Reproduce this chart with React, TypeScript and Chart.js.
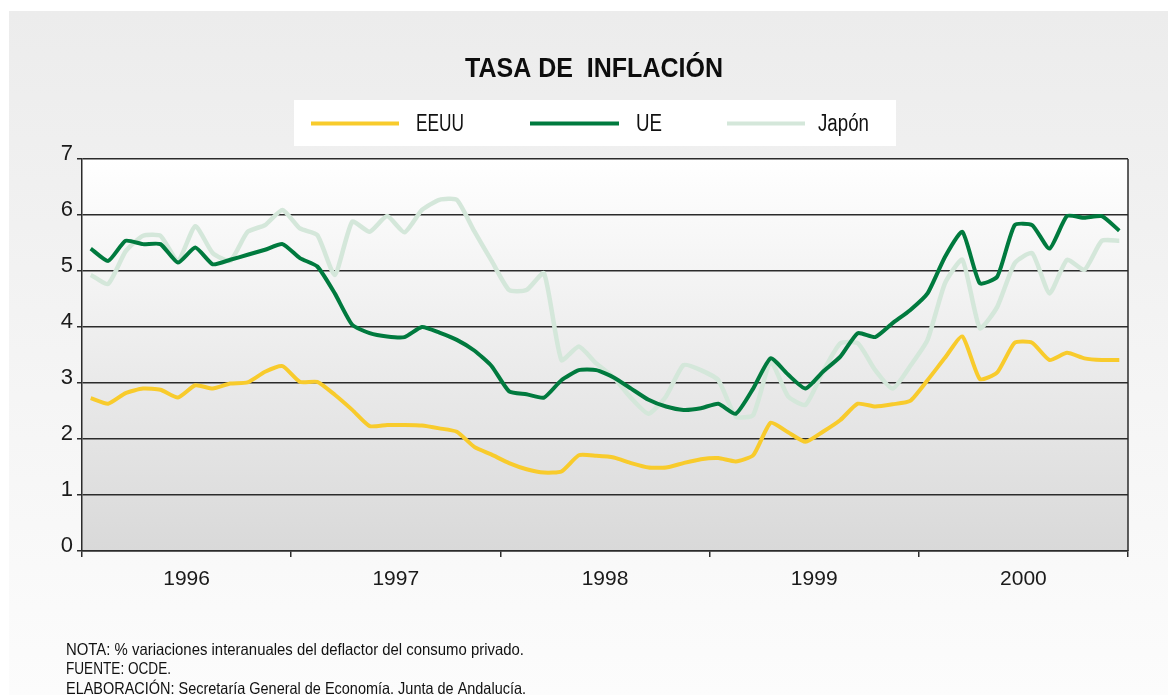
import React, { useEffect, useRef } from 'react';
import { Chart, registerables } from 'chart.js';

Chart.register(...registerables);

// ---- Data (monthly, Jan 1996 – Dec 2000) ----
const years = ['1996', '1997', '1998', '1999', '2000'];
const seriesNames = ['EEUU', 'UE', 'Japón'];
const seriesColors = ['#F8CB2C', '#007A3E', '#D4E7DA'];
const yTickValues = [0, 1, 2, 3, 4, 5, 6, 7];

const eeuu = [
  2.73, 2.63, 2.82, 2.90, 2.88, 2.74, 2.96, 2.90, 2.99, 3.01, 3.20, 3.30,
  3.02, 3.02, 2.79, 2.52, 2.23, 2.25, 2.25, 2.24, 2.19, 2.13, 1.86, 1.72,
  1.57, 1.46, 1.40, 1.42, 1.71, 1.70, 1.67, 1.57, 1.49, 1.49, 1.57, 1.64,
  1.66, 1.60, 1.71, 2.29, 2.12, 1.95, 2.13, 2.34, 2.63, 2.58, 2.62, 2.68,
  3.05, 3.45, 3.83, 3.07, 3.19, 3.72, 3.72, 3.41, 3.54, 3.44, 3.41, 3.41,
];

const ue = [
  5.40, 5.18, 5.54, 5.48, 5.48, 5.15, 5.42, 5.12, 5.20, 5.29, 5.38, 5.48,
  5.23, 5.08, 4.60, 4.04, 3.89, 3.83, 3.82, 4.00, 3.90, 3.77, 3.58, 3.30,
  2.85, 2.80, 2.74, 3.05, 3.23, 3.23, 3.10, 2.90, 2.70, 2.58, 2.52, 2.55,
  2.63, 2.45, 2.90, 3.44, 3.15, 2.90, 3.20, 3.47, 3.89, 3.82, 4.07, 4.30,
  4.60, 5.25, 5.70, 4.78, 4.90, 5.82, 5.82, 5.40, 5.98, 5.95, 5.98, 5.72,
];

const japon = [
  4.93, 4.77, 5.35, 5.63, 5.63, 5.18, 5.80, 5.32, 5.18, 5.70, 5.82, 6.09,
  5.76, 5.64, 4.93, 5.88, 5.70, 5.98, 5.69, 6.09, 6.27, 6.27, 5.71, 5.18,
  4.66, 4.66, 4.96, 3.41, 3.65, 3.35, 3.10, 2.73, 2.45, 2.76, 3.32, 3.23,
  3.05, 2.40, 2.43, 3.38, 2.76, 2.61, 3.20, 3.71, 3.71, 3.23, 2.90, 3.30,
  3.77, 4.78, 5.20, 3.98, 4.36, 5.14, 5.32, 4.60, 5.20, 5.02, 5.54, 5.54,
];

const titleText = 'TASA DE  INFLACIÓN';
const footerLines = [
  'NOTA: % variaciones interanuales del deflactor del consumo privado.',
  'FUENTE: OCDE.',
  'ELABORACIÓN: Secretaría General de Economía. Junta de Andalucía.',
];

const FONT = '"Liberation Sans", Arial, sans-serif';

function toPoints(values: number[]) {
  return values.map((v, i) => ({ x: i + 0.5, y: v }));
}

function fitText(ctx: CanvasRenderingContext2D, text: string, x: number, y: number, w: number) {
  const m = ctx.measureText(text).width;
  const s = w / m;
  ctx.save();
  ctx.translate(x, y);
  ctx.scale(s, 1);
  ctx.fillText(text, 0, 0);
  ctx.restore();
}

const decorPlugin = {
  id: 'decor',
  beforeDraw(chart: any) {
    const { ctx, chartArea: ca, width, height } = chart;
    ctx.save();
    ctx.fillStyle = '#ffffff';
    ctx.fillRect(0, 0, width, height);
    const g = ctx.createLinearGradient(0, 11, 0, height);
    g.addColorStop(0, '#ececec');
    g.addColorStop(1, '#fcfcfc');
    ctx.fillStyle = g;
    ctx.fillRect(9, 11, width - 9, height - 11);

    const pg = ctx.createLinearGradient(0, ca.top, 0, ca.bottom);
    pg.addColorStop(0, '#ffffff');
    pg.addColorStop(1, '#d9d9d9');
    ctx.fillStyle = pg;
    ctx.fillRect(ca.left, ca.top, ca.right - ca.left, ca.bottom - ca.top);

    // Title
    ctx.fillStyle = '#0d0d0d';
    ctx.textBaseline = 'alphabetic';
    ctx.textAlign = 'left';
    ctx.font = `bold 27px ${FONT}`;
    fitText(ctx, titleText, 465, 76.5, 258);

    // Legend box
    ctx.fillStyle = '#ffffff';
    ctx.fillRect(294, 100, 602, 46);
    const items = [
      { x0: 311, x1: 399, tx: 416, tw: 48 },
      { x0: 530, x1: 619, tx: 636, tw: 26 },
      { x0: 727, x1: 805, tx: 818, tw: 51 },
    ];
    ctx.font = `23px ${FONT}`;
    items.forEach((it, i) => {
      ctx.strokeStyle = seriesColors[i];
      ctx.lineWidth = 4;
      ctx.lineCap = 'butt';
      ctx.beginPath();
      ctx.moveTo(it.x0, 123.5);
      ctx.lineTo(it.x1, 123.5);
      ctx.stroke();
      ctx.fillStyle = '#111111';
      fitText(ctx, seriesNames[i], it.tx, 131, it.tw);
    });

    // Footer
    ctx.font = `16.5px ${FONT}`;
    ctx.fillStyle = '#111111';
    fitText(ctx, footerLines[0], 66, 655, 458);
    fitText(ctx, footerLines[1], 66, 674, 105);
    fitText(ctx, footerLines[2], 66, 694, 460);
    ctx.restore();
  },
  beforeDatasetsDraw(chart: any) {
    const { ctx, chartArea: ca } = chart;
    ctx.save();
    ctx.strokeStyle = '#2b2b2b';
    ctx.lineWidth = 1.5;
    ctx.beginPath();
    ctx.moveTo(ca.right, ca.top);
    ctx.lineTo(ca.right, ca.bottom);
    ctx.stroke();
    ctx.restore();
  },
};

export default function App() {
  const ref = useRef<HTMLCanvasElement>(null);

  useEffect(() => {
    const canvas = ref.current;
    if (!canvas) return;
    const allSeries = [eeuu, ue, japon];
    const chart = new Chart(canvas, {
      type: 'line',
      data: {
        datasets: allSeries.map((vals, i) => ({
          label: seriesNames[i],
          data: toPoints(vals),
          borderColor: seriesColors[i],
          backgroundColor: seriesColors[i],
          borderWidth: i === 2 ? 4.5 : 4,
          pointRadius: 0,
          tension: 0.18,
          fill: false,
        })),
      },
      options: {
        responsive: false,
        animation: false,
        devicePixelRatio: 1,
        layout: { padding: { left: 0, right: 40, top: 159, bottom: 94 } },
        plugins: {
          legend: { display: false },
          title: { display: false },
          tooltip: { enabled: false },
        },
        scales: {
          x: {
            type: 'linear',
            min: 0,
            max: years.length * 12,
            afterBuildTicks: (axis: any) => {
              const t = [];
              for (let v = 0; v <= years.length * 12; v += 6) t.push({ value: v });
              axis.ticks = t;
            },
            afterFit: (axis: any) => {
              axis.height = 50;
            },
            ticks: {
              autoSkip: false,
              maxRotation: 0,
              padding: 10,
              color: '#1a1a1a',
              font: { family: FONT, size: 21 },
              callback: (v: any) => (v % 12 === 6 ? years[(v - 6) / 12] : ''),
            },
            grid: {
              drawOnChartArea: false,
              drawTicks: true,
              tickLength: 6,
              lineWidth: 1.5,
              color: (c: any) => (c.tick && c.tick.value % 12 === 0 ? '#2b2b2b' : 'rgba(0,0,0,0)'),
            },
            border: { display: true, color: '#2b2b2b', width: 1.5 },
          },
          y: {
            type: 'linear',
            min: 0,
            max: 7,
            afterBuildTicks: (axis: any) => {
              axis.ticks = yTickValues.map((v) => ({ value: v }));
            },
            afterFit: (axis: any) => {
              axis.width = 82;
            },
            ticks: {
              padding: 4,
              labelOffset: -5,
              color: '#1a1a1a',
              font: { family: FONT, size: 22 },
            },
            grid: {
              drawTicks: true,
              tickLength: 5,
              lineWidth: 1.5,
              color: '#2b2b2b',
            },
            border: { display: true, color: '#2b2b2b', width: 1.5 },
          },
        },
      },
      plugins: [decorPlugin],
    } as any);
    return () => chart.destroy();
  }, []);

  return (
    <div style={{ position: 'absolute', left: 0, top: 0, width: 1168, height: 695 }}>
      <canvas ref={ref} width={1168} height={695} style={{ display: 'block' }} />
    </div>
  );
}
